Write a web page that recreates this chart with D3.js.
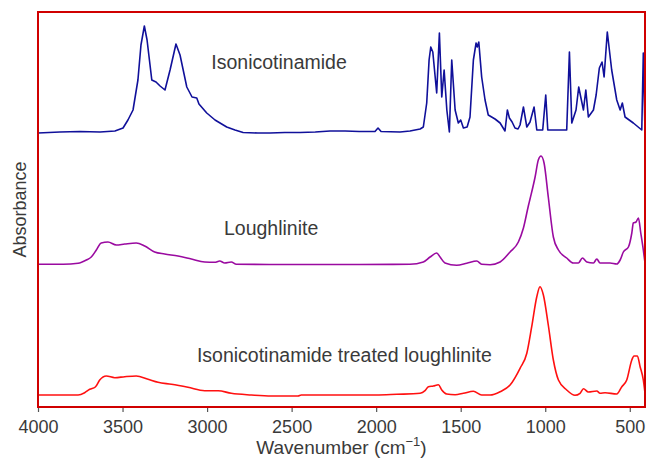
<!DOCTYPE html>
<html>
    <head>
        <meta charset="utf-8">
        <title>FTIR spectra</title>
        <style>
            html {font-family: "Liberation Sans", Arial, sans-serif;}
            body {margin: 0px;padding: 0px;overflow: hidden;background: #fff;}
            svg {display: block;}
            .tick text {fill: #3a3a3a;}
        </style>
    </head>
    <body>
        <div id="chart"></div>
        <script src="https://cdn.jsdelivr.net/npm/d3@7/dist/d3.min.js"></script>
        <script type="text/javascript">
            // wavenumber (cm-1) and absorbance (offset as plotted)
            var isoWave = [4000, 3870, 3752, 3633, 3545, 3497, 3468, 3438, 3409, 3391, 3371, 3355, 3327, 3302, 3278, 3249, 3219, 3184, 3160, 3120,
                3089, 3061, 3048, 3002, 2953, 2884, 2835, 2787, 2700, 2628, 2540, 2450, 2360, 2273, 2184, 2100, 2007, 1989, 1971, 1859,
                1800, 1740, 1721, 1701, 1687, 1677, 1665, 1642, 1626, 1612, 1598, 1582, 1567, 1553, 1533, 1514, 1500, 1484, 1462, 1445,
                1425, 1409, 1402, 1393, 1376, 1356, 1337, 1297, 1267, 1238, 1224, 1212, 1196, 1179, 1161, 1149, 1129, 1109, 1090, 1066,
                1050, 1015, 997, 985, 873, 857, 843, 818, 802, 790, 774, 760, 745, 715, 699, 680, 664, 652, 633, 607,
                577, 557, 544, 528, 479, 429, 420, 410];
            var isoAbs = [2.74, 2.75, 2.755, 2.75, 2.76, 2.79, 2.87, 2.97, 3.27, 3.62, 3.81, 3.67, 3.27, 3.25, 3.21, 3.17, 3.37, 3.63, 3.52, 3.20,
                3.10, 3.09, 3.03, 2.94, 2.87, 2.80, 2.77, 2.745, 2.74, 2.74, 2.745, 2.745, 2.75, 2.76, 2.76, 2.755, 2.755, 2.79, 2.755, 2.75,
                2.76, 2.78, 2.80, 3.04, 3.47, 3.60, 3.55, 3.14, 3.74, 3.10, 3.37, 2.97, 2.75, 3.47, 2.97, 2.84, 2.87, 2.79, 2.80, 2.90,
                3.47, 3.64, 3.60, 3.65, 3.30, 3.07, 2.92, 2.88, 2.84, 2.76, 2.97, 2.89, 2.85, 2.79, 2.78, 2.82, 3.00, 2.80, 2.85, 3.00,
                2.77, 2.77, 3.12, 2.77, 2.77, 3.55, 2.84, 2.97, 3.20, 3.10, 2.97, 3.17, 2.90, 2.97, 3.12, 3.39, 3.45, 3.30, 3.75, 3.37,
                3.07, 2.97, 3.04, 2.90, 2.84, 2.77, 3.54, 2.75];

            var lougWave = [4000, 3850, 3763, 3714, 3685, 3655, 3626, 3586, 3537, 3487, 3419, 3369, 3310, 3251, 3172, 3093, 3014, 2955, 2925, 2896,
                2857, 2827, 2500, 2100, 1800, 1721, 1681, 1642, 1622, 1593, 1524, 1464, 1405, 1376, 1326, 1267, 1208, 1159, 1129, 1100,
                1090, 1060, 1041, 1025, 1007, 982, 952, 922, 873, 834, 804, 780, 754, 715, 695, 676, 617, 577, 557, 538,
                508, 488, 479, 463, 449, 435, 420, 410];
            var lougAbs = [1.427, 1.427, 1.437, 1.47, 1.50, 1.57, 1.64, 1.65, 1.62, 1.63, 1.64, 1.61, 1.55, 1.53, 1.51, 1.48, 1.45, 1.447, 1.46, 1.44,
                1.45, 1.427, 1.425, 1.425, 1.427, 1.45, 1.50, 1.54, 1.50, 1.44, 1.417, 1.437, 1.46, 1.427, 1.423, 1.45, 1.55, 1.65, 1.79, 2.01,
                2.08, 2.30, 2.47, 2.51, 2.44, 2.10, 1.70, 1.57, 1.49, 1.44, 1.44, 1.49, 1.45, 1.44, 1.48, 1.44, 1.44, 1.43, 1.47, 1.55,
                1.60, 1.74, 1.84, 1.85, 1.89, 1.74, 1.57, 1.44];

            var treatWave = [4000, 3850, 3763, 3724, 3694, 3661, 3635, 3596, 3546, 3487, 3419, 3349, 3290, 3211, 3113, 3014, 2935, 2857, 2738, 2620,
                2462, 2443, 2226, 2000, 1878, 1740, 1711, 1691, 1662, 1632, 1612, 1583, 1533, 1484, 1425, 1376, 1326, 1267, 1208, 1149,
                1109, 1080, 1050, 1031, 1011, 982, 952, 922, 873, 824, 794, 774, 745, 695, 676, 646, 577, 547, 518, 488,
                475, 455, 439, 420, 410];
            var treatAbs = [0.12, 0.12, 0.12, 0.143, 0.177, 0.20, 0.27, 0.31, 0.293, 0.303, 0.31, 0.277, 0.247, 0.227, 0.197, 0.163, 0.163, 0.137, 0.12, 0.11,
                0.11, 0.12, 0.12, 0.12, 0.127, 0.137, 0.163, 0.203, 0.21, 0.223, 0.17, 0.13, 0.123, 0.137, 0.157, 0.12, 0.12, 0.153, 0.22, 0.387,
                0.537, 0.803, 1.103, 1.203, 1.12, 0.82, 0.47, 0.27, 0.17, 0.117, 0.137, 0.183, 0.15, 0.16, 0.137, 0.143, 0.13, 0.203, 0.27, 0.47,
                0.51, 0.51, 0.403, 0.27, 0.137];

            var seriesNames = ["Isonicotinamide", "Loughlinite", "Isonicotinamide treated loughlinite"];
            var seriesColors = ["#10109a", "#9a0aa0", "#ff1010"];
            var labelAt = [[2975, 3.38], [2900, 1.72], [3060, 0.45]];
            var xTicks = [4000, 3500, 3000, 2500, 2000, 1500, 1000, 500];

            var width = 650, height = 459;
            var margin = {top: 12, right: 5, bottom: 52, left: 38};
            var plotW = width - margin.left - margin.right,
                plotH = height - margin.top - margin.bottom;

            var x = d3.scaleLinear().domain([4000, 410]).range([0, plotW]);
            var y = d3.scaleLinear().domain([0, 3.95]).range([plotH, 0]);

            var svg = d3.select("#chart").append("svg")
                    .attr("width", width)
                    .attr("height", height);

            var g = svg.append("g").attr("transform", "translate(" + margin.left + "," + margin.top + ")");

            g.append("clipPath").attr("id", "clip")
                .append("rect").attr("width", plotW).attr("height", plotH);

            function toPoints(w, a) {
                return w.map(function(d, i) { return {w: d, a: a[i]}; })
                        .sort(function(p, q) { return p.w - q.w; });
            }

            var spectra = [
                {name: seriesNames[0], color: seriesColors[0], pts: toPoints(isoWave, isoAbs), curve: d3.curveLinear, label: labelAt[0]},
                {name: seriesNames[1], color: seriesColors[1], pts: toPoints(lougWave, lougAbs), curve: d3.curveMonotoneX, label: labelAt[1]},
                {name: seriesNames[2], color: seriesColors[2], pts: toPoints(treatWave, treatAbs), curve: d3.curveMonotoneX, label: labelAt[2]}
            ];

            var xAxis = d3.axisBottom(x).tickValues(xTicks).tickFormat(d3.format("d")).tickSize(5).tickSizeOuter(0);
            var ax = g.append("g").attr("transform", "translate(0," + plotH + ")").call(xAxis);
            ax.select(".domain").remove();
            ax.selectAll(".tick line").attr("stroke", "#555").attr("stroke-width", 1.2);
            ax.selectAll(".tick text").attr("font-size", "18px").attr("font-family", "Liberation Sans, Arial, sans-serif").attr("dy", "1.0em");

            spectra.forEach(function(s) {
                var line = d3.line()
                    .x(function(d) { return x(d.w); })
                    .y(function(d) { return y(d.a); })
                    .curve(s.curve);
                g.append("path")
                    .datum(s.pts)
                    .attr("clip-path", "url(#clip)")
                    .attr("fill", "none")
                    .attr("stroke", s.color)
                    .attr("stroke-width", 1.6)
                    .attr("stroke-linejoin", "round")
                    .attr("d", line);
                g.append("text")
                    .attr("x", x(s.label[0]))
                    .attr("y", y(s.label[1]))
                    .attr("fill", "#3a3a3a")
                    .attr("font-size", "19.5px")
                    .text(s.name);
            });

            // red frame
            g.append("rect")
                .attr("width", plotW)
                .attr("height", plotH)
                .attr("fill", "none")
                .attr("stroke", "#d00000")
                .attr("stroke-width", 2);

            var xl = svg.append("text")
                .attr("x", margin.left + plotW / 2)
                .attr("y", 454)
                .attr("text-anchor", "middle")
                .attr("fill", "#3a3a3a")
                .attr("font-size", "19px");
            xl.append("tspan").text("Wavenumber (cm");
            xl.append("tspan").attr("dy", "-8").attr("font-size", "13px").text("\u22121");
            xl.append("tspan").attr("dy", "8").text(")");

            svg.append("text")
                .attr("transform", "translate(26," + (margin.top + plotH / 2) + ") rotate(-90)")
                .attr("text-anchor", "middle")
                .attr("fill", "#3a3a3a")
                .attr("font-size", "18px")
                .text("Absorbance");
        </script>
    </body>
</html>
